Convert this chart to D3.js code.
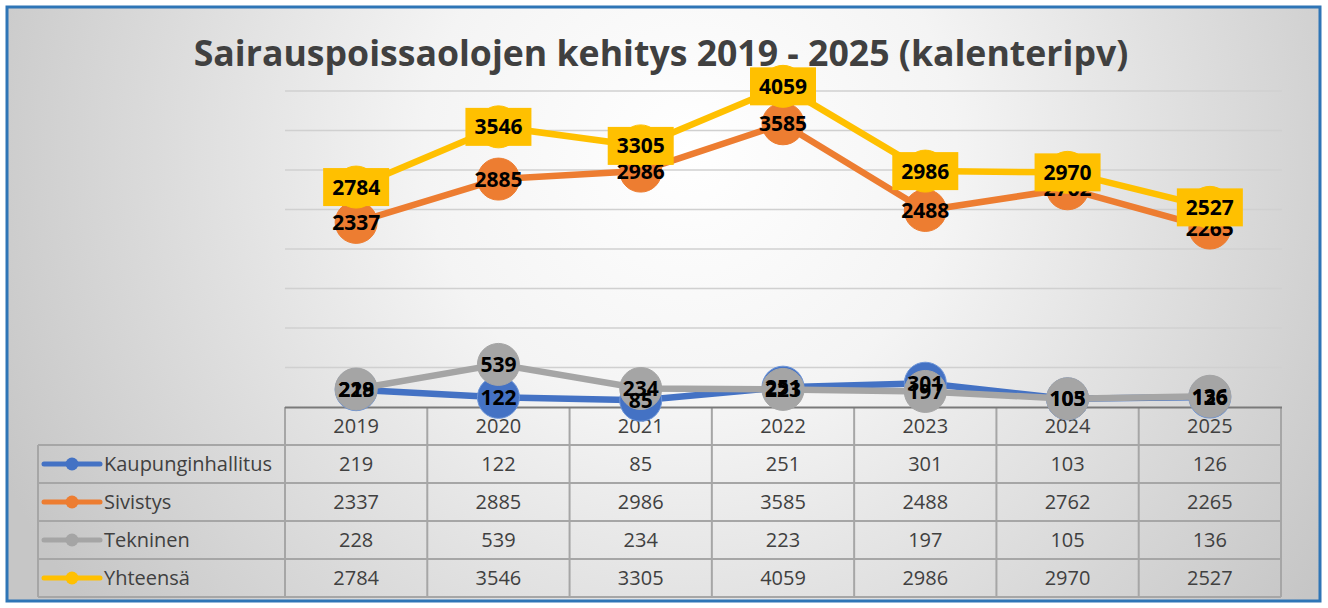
<!DOCTYPE html>
<html>
<head>
<meta charset="utf-8">
<script src="https://cdn.jsdelivr.net/npm/d3@7"></script>
<style>
  html, body { margin: 0; padding: 0; background: #fff; }
  svg { display: block; font-family: "Open Sans", "Noto Sans", sans-serif; }
</style>
</head>
<body>
<div id="chart"></div>
<script>
'use strict';

const title = "Sairauspoissaolojen kehitys 2019 - 2025 (kalenteripv)";
const years = ["2019", "2020", "2021", "2022", "2023", "2024", "2025"];
const seriesNames = ["Kaupunginhallitus", "Sivistys", "Tekninen", "Yhteensä"];
const kaupunginhallitus = [219, 122, 85, 251, 301, 103, 126];
const sivistys = [2337, 2885, 2986, 3585, 2488, 2762, 2265];
const tekninen = [228, 539, 234, 223, 197, 105, 136];
const yhteensa = [2784, 3546, 3305, 4059, 2986, 2970, 2527];
const yTicks = [500, 1000, 1500, 2000, 2500, 3000, 3500, 4000];

const colors = ["#4472c4", "#ed7d31", "#a5a5a5", "#ffc000"];
const series = seriesNames.map((name, i) => ({
    name,
    color: colors[i],
    values: [kaupunginhallitus, sivistys, tekninen, yhteensa][i]
}));

const W = 1328, H = 608;
const svg = d3.select("#chart").append("svg")
    .attr("width", W).attr("height", H);

// background
const defs = svg.append("defs");
const grad = defs.append("radialGradient")
    .attr("id", "bg")
    .attr("gradientUnits", "userSpaceOnUse")
    .attr("cx", 690).attr("cy", 150).attr("r", 760);
grad.append("stop").attr("offset", "0%").attr("stop-color", "#ffffff");
grad.append("stop").attr("offset", "35%").attr("stop-color", "#f4f4f4");
grad.append("stop").attr("offset", "100%").attr("stop-color", "#c6c6c6");

svg.append("rect")
    .attr("x", 7).attr("y", 7).attr("width", 1313).attr("height", 594)
    .attr("fill", "url(#bg)")
    .attr("stroke", "#2e75b6").attr("stroke-width", 3);

// title, fitted to the reference width
const titleText = svg.append("text")
    .attr("x", 661).attr("y", 66)
    .attr("text-anchor", "middle")
    .attr("font-weight", "bold")
    .attr("font-size", 34)
    .attr("fill", "#404040")
    .text(title);
const tw = titleText.node().getComputedTextLength();
titleText.attr("font-size", 34 * 935 / tw);

// scales
const x = d3.scaleBand().domain(years).range([285, 1281]);
const cx = d => x(d) + x.bandwidth() / 2;
const y = d3.scaleLinear().domain([0, 4000]).range([407, 91]);

// gridlines
svg.append("g").selectAll("line")
    .data(yTicks)
    .join("line")
    .attr("x1", 285).attr("x2", 1282)
    .attr("y1", d => y(d)).attr("y2", d => y(d))
    .attr("stroke", "#d0d0d0").attr("stroke-width", 1.5);

// data table
const rows = d3.scaleBand().domain(["header"].concat(seriesNames)).range([407, 597]);
const tableColor = "#a6a6a6";
const table = svg.append("g");

// vertical lines of year columns
table.selectAll("line.col")
    .data(years.concat(["end"]))
    .join("line")
    .attr("class", "col")
    .attr("x1", d => d === "end" ? 1281 : x(d))
    .attr("x2", d => d === "end" ? 1281 : x(d))
    .attr("y1", 407).attr("y2", 597)
    .attr("stroke", tableColor).attr("stroke-width", 2);

// horizontal lines
table.selectAll("line.row")
    .data(seriesNames)
    .join("line")
    .attr("class", "row")
    .attr("x1", 38).attr("x2", 1281)
    .attr("y1", d => rows(d)).attr("y2", d => rows(d))
    .attr("stroke", tableColor).attr("stroke-width", 2);
table.append("line")
    .attr("x1", 38).attr("x2", 1281).attr("y1", 597).attr("y2", 597)
    .attr("stroke", tableColor).attr("stroke-width", 2);
table.append("line")
    .attr("x1", 38).attr("x2", 38).attr("y1", rows(seriesNames[0])).attr("y2", 597)
    .attr("stroke", tableColor).attr("stroke-width", 2);

// axis line
svg.append("line")
    .attr("x1", 285).attr("x2", 1282).attr("y1", 407.5).attr("y2", 407.5)
    .attr("stroke", "#7a7a7a").attr("stroke-width", 2);

// header years
table.selectAll("text.year")
    .data(years)
    .join("text")
    .attr("class", "year")
    .attr("x", cx)
    .attr("y", rows("header") + rows.bandwidth() / 2)
    .attr("dy", "0.36em")
    .attr("text-anchor", "middle")
    .attr("font-size", 20)
    .attr("fill", "#404040")
    .text(d => d);

// series rows
const rowG = table.selectAll("g.srow")
    .data(series)
    .join("g")
    .attr("class", "srow")
    .attr("transform", d => `translate(0,${rows(d.name) + rows.bandwidth() / 2})`);

rowG.append("line")
    .attr("x1", 44).attr("x2", 100)
    .attr("stroke", d => d.color).attr("stroke-width", 5)
    .attr("stroke-linecap", "round");
rowG.append("circle")
    .attr("cx", 72).attr("r", 6.5)
    .attr("fill", d => d.color);
rowG.append("text")
    .attr("x", 104).attr("dy", "0.36em")
    .attr("font-size", 20)
    .attr("fill", "#404040")
    .text(d => d.name);
rowG.selectAll("text.val")
    .data(d => d.values.map((v, i) => ({v, year: years[i]})))
    .join("text")
    .attr("class", "val")
    .attr("x", d => cx(d.year)).attr("dy", "0.36em")
    .attr("text-anchor", "middle")
    .attr("font-size", 20)
    .attr("fill", "#404040")
    .text(d => d.v);

// lines and markers
const line = d3.line()
    .x((d, i) => cx(years[i]))
    .y(d => y(d));

const plot = svg.append("g");
series.forEach(s => {
    const g = plot.append("g");
    g.append("path")
        .attr("d", line(s.values))
        .attr("fill", "none")
        .attr("stroke", s.color)
        .attr("stroke-width", 6.5)
        .attr("stroke-linejoin", "round")
        .attr("stroke-linecap", "round");
    g.selectAll("circle")
        .data(s.values)
        .join("circle")
        .attr("cx", (d, i) => cx(years[i]))
        .attr("cy", d => y(d))
        .attr("r", 21)
        .attr("fill", s.color)
        .attr("stroke", s.color === "#4472c4" ? "#6d95d8" : s.color)
        .attr("stroke-width", 1);
});

// data labels
series.forEach((s, si) => {
    const g = svg.append("g");
    const lab = g.selectAll("g")
        .data(s.values)
        .join("g")
        .attr("transform", (d, i) => `translate(${cx(years[i])},${y(d)})`);
    if (si === 3) {
        lab.append("rect")
            .attr("x", -33).attr("y", -19)
            .attr("width", 66).attr("height", 38)
            .attr("fill", s.color);
    }
    lab.append("text")
        .attr("text-anchor", "middle")
        .attr("dy", "0.36em")
        .attr("font-size", 21)
        .attr("font-weight", "bold")
        .attr("fill", "#000")
        .text(d => d);
});
</script>
</body>
</html>
